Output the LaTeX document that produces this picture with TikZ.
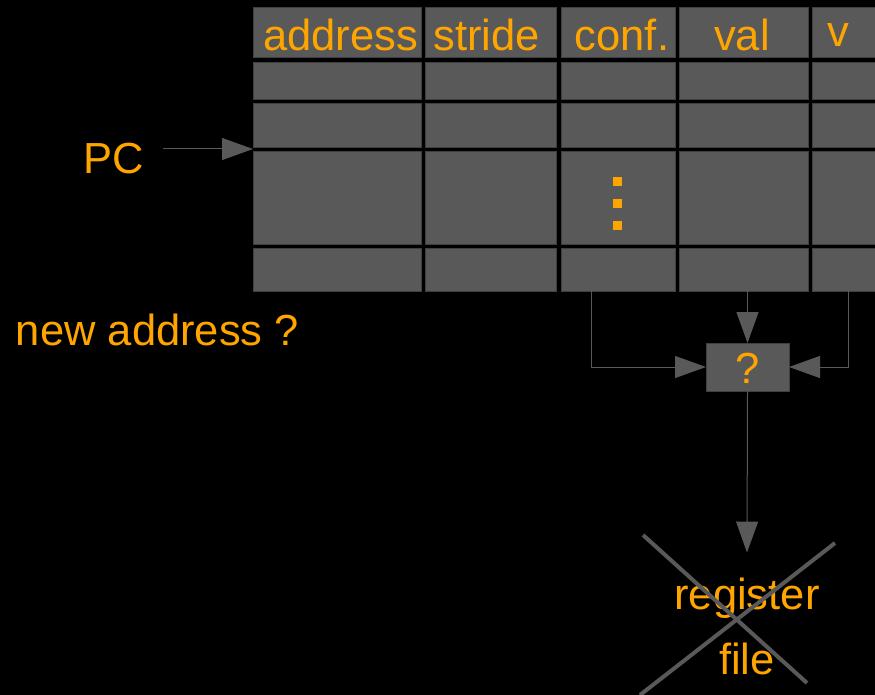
\documentclass[tikz,border=0pt]{standalone}
\usepackage{fontspec}
\setmainfont{Liberation Sans}
\usetikzlibrary{arrows.meta,calc}
\definecolor{cellgray}{HTML}{595959}
\definecolor{celledge}{HTML}{404040}
\definecolor{labelorange}{HTML}{FFA500}
\newcommand\bigfont{\fontsize{43.5}{65}\selectfont}
\begin{document}
\begin{tikzpicture}[x=1pt,y=-1pt,
  cell/.style={draw=celledge, fill=cellgray, line width=0.8pt, inner sep=0pt, outer sep=0pt},
  txt/.style={font=\bigfont, text=labelorange, inner sep=0pt, outer sep=0pt},
  hdr/.style={txt, anchor=base},
  dotsq/.style={fill=labelorange, inner sep=0pt, minimum size=9pt},
  conn/.style={draw=cellgray, line width=1pt, -{Triangle[length=31pt,width=22pt]}},
  crossline/.style={draw=cellgray, line width=4pt}]

% page and background
\useasboundingbox (0,0) rectangle (875,695);
\fill[black] (0,0) rectangle (875,695);

% table of cells: columns A..E, rows 1..5
\foreach \c/\x/\w in {A/337/168, B/490.5/131, C/618/114, D/743.5/129, E/848/72}{
  \foreach \r/\y/\h in {1/32/50, 2/80.5/37, 3/125/44, 4/197.5/93, 5/269.5/43}{
    \node[cell, minimum width=\w pt, minimum height=\h pt] (\c\r) at (\x,\y) {};
  }
}

% column headings
\node[hdr] (hA) at (340.5,51) {address};
\node[hdr] (hB) at (486.5,51) {stride};
\node[hdr] (hC) at (622,51) {conf.};
\node[hdr] (hD) at (742,51) {val};
\node[hdr] (hE) at (838,47) {v};

% vertical ellipsis in the confidence column
\node[dotsq] (dot1) at (617.5,181.5) {};
\node[dotsq] (dot2) at (617.5,203.5) {};
\node[dotsq] (dot3) at (617.5,225.5) {};

% side labels
\node[txt, anchor=base west] (pc) at (83,174) {PC};
\node[txt, anchor=base west] (newaddr) at (16,345) {new address ?};

% decision box
\node[cell, minimum width=83pt, minimum height=48pt, font=\bigfont, text=labelorange,
      text height=32pt, text depth=0pt] (q) at (747.5,367) {?};

% crossed-out register file
\node[txt, align=center] (reg) at (747,626) {register\\file};

% PC indexes the table
\coordinate (Aedge) at ($(A3.south west)!.5!(A4.north west)$);
\coordinate (pcout) at ([xshift=20pt]pc.east);
\draw[conn] (pcout |- Aedge) -- (Aedge);

% fields feeding the decision
\draw[conn] ([xshift=-27pt]C5.south) |- (q.west);
\draw[conn] (q.north |- D5.south) -- (q.north);
\draw[conn] (E5.south) |- (q.east);

% decision to register file
\draw[conn] (q.south) -- ([yshift=25pt]reg.north);

% cross over the register file
\draw[crossline] (643,535) -- (807,683);
\draw[crossline] (835,543) -- (640,695);
\end{tikzpicture}
\end{document}
